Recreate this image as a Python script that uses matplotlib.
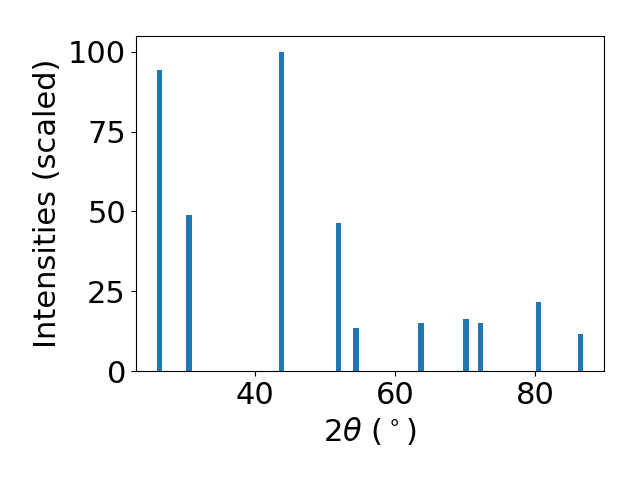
import numpy as np
import matplotlib
matplotlib.use('Agg')
import matplotlib.pyplot as plt

# peak positions (2theta, deg) and scaled intensities
two_theta = [26.4, 30.6, 43.8, 51.9, 54.4, 63.7, 70.1, 72.2, 80.4, 86.4]
intensity = [94.4, 48.9, 100.0, 46.4, 13.5, 15.0, 16.3, 15.0, 21.6, 11.6]

plt.rcParams.update({'font.size': 22})
fig = plt.figure(figsize=(6.4, 4.8), dpi=100)
ax = fig.add_axes([0.212, 0.227, 0.732, 0.698])
ax.bar(two_theta, intensity, width=0.75, color='#1f77b4')
ax.set_xlabel(r'2$\theta$ ($^\circ$)')
ax.set_ylabel('Intensities (scaled)')
ax.set_yticks([0, 25, 50, 75, 100])
ax.set_xticks([40, 60, 80])
fig.savefig('out.png', dpi=100)
